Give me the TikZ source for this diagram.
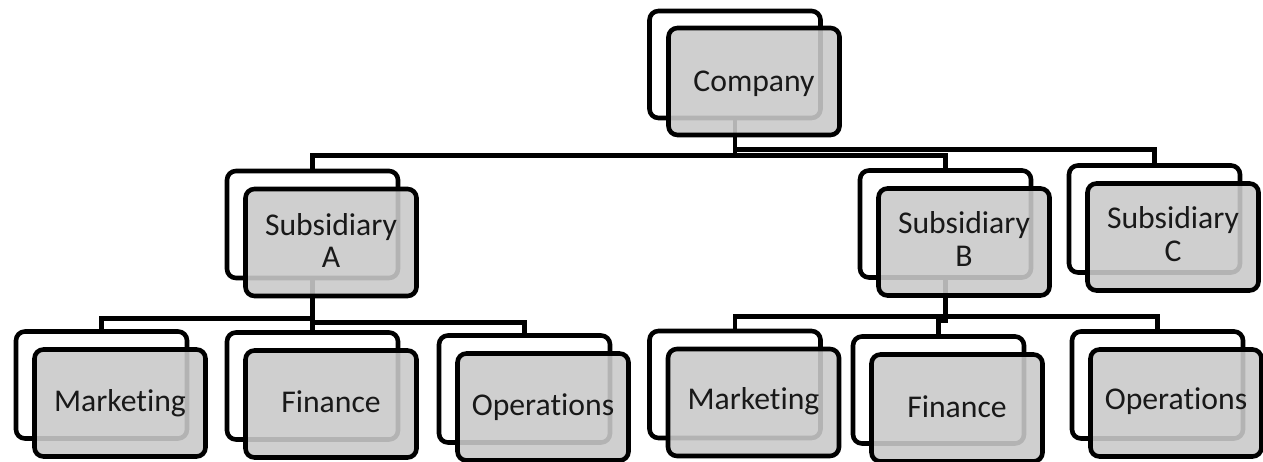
\documentclass[tikz,border=0pt]{standalone}
\usepackage{fontspec}
\setmainfont[Ligatures={NoCommon,NoContextual}]{Carlito}
\definecolor{frontgray}{RGB}{202,202,202}
\begin{document}
\begin{tikzpicture}[x=1bp,y=-1bp,
  boxsize/.style={rectangle, rounded corners=9bp, minimum width=171bp,
    minimum height=107bp, line width=4.6bp, inner sep=0pt},
  backbox/.style={boxsize, draw=black, fill=white},
  frontbox/.style={boxsize, draw=black, fill=frontgray, fill opacity=0.89,
    draw opacity=1},
  wire/.style={draw=black, line width=4.6bp},
  lbl/.style={font=\fontsize{31.8}{33.1}\selectfont, align=center,
    inner sep=0pt, anchor=base, text=black!90, text opacity=1}
]
\fill[white] (0,0) rectangle (1263,462);
\useasboundingbox (0,0) rectangle (1263,462);

% back cards
\node[backbox] (compB) at (735,64.5) {};
\node[backbox] (subAB) at (312.5,224.5) {};
\node[backbox] (subBB) at (945.5,224) {};
\node[backbox] (subCB) at (1154.5,219) {};
\node[backbox] (mktAB) at (101.5,385) {};
\node[backbox] (finAB) at (312.5,386) {};
\node[backbox] (opsAB) at (524.5,389) {};
\node[backbox] (mktBB) at (735,384.5) {};
\node[backbox] (finBB) at (938.5,390) {};
\node[backbox] (opsBB) at (1157.5,385) {};

% connectors, running under the front cards
\draw[wire] (compB.south) -- ++(0,35) -| (subAB.north);
\draw[wire] (compB.south) -- ++(0,35) -| (subBB.north);
\draw[wire] (compB.south) -- ++(0,29) -| (subCB.north);

\draw[wire] (subAB.south) -- (finAB.north);
\draw[wire] (subAB.south) -- ++(0,38) -| (mktAB.north);
\draw[wire] (subAB.south) -- ++(0,42) -| (opsAB.north);

\draw[wire] (subBB.south) -- ++(0,37) -| (mktBB.north);
\draw[wire] (subBB.south) -- ++(0,37) -| (opsBB.north);
\draw[wire] (subBB.south) -- ++(0,41) -| (finBB.north);

% front cards
\node[frontbox] (comp) at ([xshift=19bp,yshift=-17bp]compB.center) {};
\node[frontbox] (subA) at ([xshift=18.5bp,yshift=-18bp]subAB.center) {};
\node[frontbox] (subB) at ([xshift=18.5bp,yshift=-18bp]subBB.center) {};
\node[frontbox] (subC) at ([xshift=18.5bp,yshift=-18bp]subCB.center) {};
\node[frontbox] (mktA) at ([xshift=18.5bp,yshift=-18bp]mktAB.center) {};
\node[frontbox] (finA) at ([xshift=18.5bp,yshift=-18bp]finAB.center) {};
\node[frontbox] (opsA) at ([xshift=18.5bp,yshift=-18bp]opsAB.center) {};
\node[frontbox] (mktB) at ([xshift=18.5bp,yshift=-18bp]mktBB.center) {};
\node[frontbox] (finB) at ([xshift=18.5bp,yshift=-18bp]finBB.center) {};
\node[frontbox] (opsB) at ([xshift=18.5bp,yshift=-18bp]opsBB.center) {};

% labels (base anchor sits on the last line)
\node[lbl] (compT) at ([yshift=-10bp]comp.center) {Company};
\node[lbl] (subAT) at ([yshift=-25.5bp]subA.center) {Subsidiary\\A};
\node[lbl] (subBT) at ([yshift=-24.5bp]subB.center) {Subsidiary\\B};
\node[lbl] (subCT) at ([yshift=-24.5bp]subC.center) {Subsidiary\\C};
\node[lbl] (mktAT) at ([yshift=-8.5bp]mktA.center) {Marketing};
\node[lbl] (finAT) at ([yshift=-9bp]finA.center) {Finance};
\node[lbl] (opsAT) at ([yshift=-9bp]opsA.center) {Operations};
\node[lbl] (mktBT) at ([yshift=-7.5bp]mktB.center) {Marketing};
\node[lbl] (finBT) at ([yshift=-9.5bp]finB.center) {Finance};
\node[lbl] (opsBT) at ([yshift=-7bp]opsB.center) {Operations};
\end{tikzpicture}
\end{document}
